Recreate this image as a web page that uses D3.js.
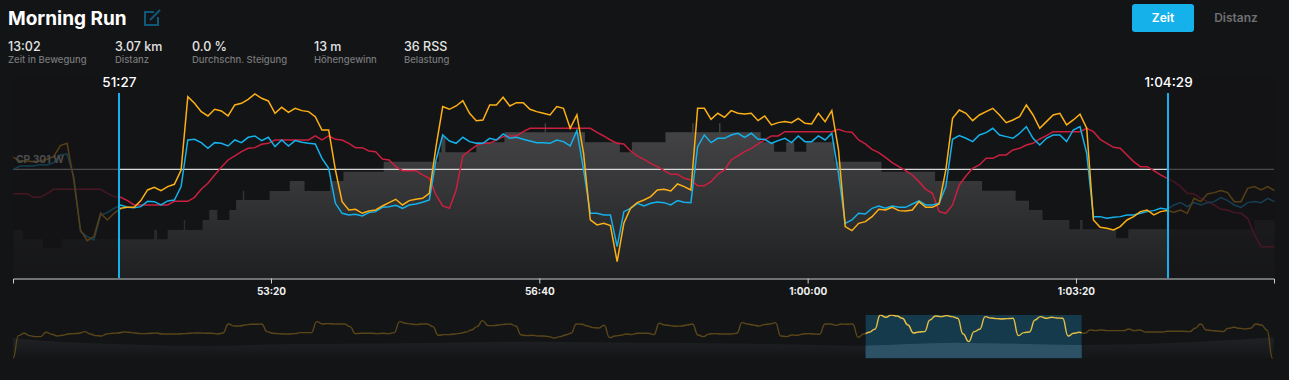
<!DOCTYPE html>
<html>
<head>
<meta charset="utf-8">
<script src="https://cdn.jsdelivr.net/npm/d3@7"></script>
<style>
    html, body { margin: 0; padding: 0; background: #131416; overflow: hidden; }
    text { font-family: Inter, Roboto, sans-serif; }
</style>
</head>
<body>
<svg id="chart"></svg>
<script>
const width = 1289;
const height = 380;

// header
const titleText = "Morning Run";
const statValues = ["13:02", "3.07 km", "0.0 %", "13 m", "36 RSS"];
const statLabels = ["Zeit in Bewegung", "Distanz", "Durchschn. Steigung", "Höhengewinn", "Belastung"];
const buttonLabels = ["Zeit", "Distanz"];

// main chart, one sample every 5 s
const sampleTimes = d3.range(3008, 3949, 5);
const tickTimes = [3200, 3400, 3600, 3800];
const selectionTimes = [3087, 3869];
const cpValue = 327;
const cpLabel = "CP 301 W";

const orangeValues = [363,352,352,350,352,357,365,398,405,295,145,113,125,195,175,195,
    210,213,213,233,265,273,263,275,282,325,545,525,500,487,507,502,487,520,525,537,553,540,532,495,513,498,510,503,500,485,445,445,325,230,205,207,195,202,205,217,227,237,220,233,237,240,255,
    395,515,507,517,533,495,473,475,520,520,543,517,527,527,507,500,495,490,515,510,450,490,375,175,160,165,158,50,165,210,227,235,245,265,267,262,283,275,265,510,510,477,495,483,503,495,493,495,473,487,460,467,470,467,480,465,463,495,470,503,385,155,143,165,
    170,185,207,205,213,203,202,205,230,213,213,223,325,480,505,495,473,490,500,510,490,467,475,485,520,490,450,470,490,495,460,475,492,450,175,153,150,145,155,175,185,200,205,190,200,203,198,205,195,240,230,253,257,263,257,230,230,270,275,265,275,263];

const blueValues = [327,337,337,337,341,340,347,370,373,305,140,125,115,190,197,210,
    220,213,212,215,231,230,220,232,235,275,415,417,407,390,407,405,397,415,407,423,427,413,423,395,415,397,413,408,405,403,360,330,225,195,190,192,187,197,200,213,215,219,210,220,223,228,235,
    355,430,412,405,423,410,405,405,420,415,433,420,423,417,412,407,407,405,415,410,397,443,325,195,195,190,190,95,200,210,225,217,225,229,227,220,233,228,227,395,430,407,420,420,430,435,423,435,417,417,405,413,420,407,427,410,410,427,415,435,315,165,175,195,
    193,210,217,210,217,213,213,223,232,220,220,225,275,417,428,420,410,430,437,450,430,425,420,435,455,420,400,420,430,430,410,445,455,375,185,185,180,183,185,190,190,195,200,203,210,207,220,227,215,227,220,227,230,242,233,220,213,227,230,227,240,230];

const redValues = [254,254,254,243,243,254,267,267,267,267,267,267,267,267,255,245,
    243,233,220,220,220,220,220,220,231,231,231,243,267,285,310,333,355,367,380,390,392,402,405,415,415,415,415,415,415,427,415,427,417,415,405,392,392,382,380,358,355,335,323,323,323,310,300,
    250,217,210,265,367,383,398,405,405,415,425,427,427,440,450,450,450,450,450,450,450,450,450,450,438,427,415,405,403,382,367,357,345,335,323,312,312,300,295,278,278,290,312,325,355,367,380,390,403,415,427,427,440,440,440,440,440,440,440,440,447,440,438,415,
    403,387,377,363,347,335,323,310,290,267,255,200,195,220,280,307,330,340,360,360,370,370,385,390,400,405,418,428,440,440,440,440,440,450,440,417,405,393,390,370,350,335,335,323,310,300,290,275,255,253,240,230,220,207,205,197,195,180,130,95,95,95];

const elevTimes = [3008,3015,3030,3044,3113,3115,3123,3135,3136,3149,3154,3160,3169,3174,3179,3180,3199,3214,3225,3244,3254,3284,3325,3327,3330,3353,3374,3404,3405,3434,3460,3469,3494,3514,3515,3534,3535,3565,3575,3584,3590,3599,3620,3655,3695,3730,3755,3765,3775,3795,3803,3805,3830,3839,3933,3948];
const elevValues = [145,117,90,117,145,117,145,175,145,175,205,175,205,235,262,235,262,292,262,292,320,350,378,425,378,408,438,465,438,408,378,408,438,465,438,465,438,408,380,408,380,408,350,320,292,263,233,205,175,147,175,147,120,147,175,175];

// overview strip, whole activity, one sample every 20 s
const overviewTimes = d3.range(0, 4561, 20);
const overviewValues = [0,68,75,68,65,65,78,72,67,69,73,74,75,80,73,68,67,73,75,76,79,78,76,74,74,75,76,73,73,73,73,74,75,76,76,75,75,73,76,103,97,97,100,102,102,103,80,75,74,73,73,74,77,77,77,110,103,104,103,103,103,95,74,75,75,75,74,75,74,77,110,105,103,101,103,103,95,69,71,71,73,75,79,85,95,113,98,98,100,102,103,97,70,68,69,67,67,65,61,65,70,75,103,102,97,92,91,99,62,67,69,73,71,75,
    75,75,71,105,100,98,96,97,100,103,70,65,73,74,73,73,73,75,107,103,100,97,101,103,107,67,65,70,69,73,74,73,72,103,103,99,103,102,103,
    63,73,78,87,130,123,130,127,120,100,76,79,80,115,127,125,128,125,120,73,50,80,87,125,121,119,118,119,120,68,77,79,115,125,120,123,121,120,67,75,78,75,
    85,83,85,83,83,83,83,88,83,85,79,79,79,79,81,81,81,81,80,90,103,85,83,82,80,90,93,90,88,90,103,100,85,0];
const overviewElevTimes = [0,101,250,696,995,1441,1886,2273,2288,2733,3062,3402,3861,4280,4564];
const overviewElevValues = [60,53,47,37,42,45,50,47,47,43,38,47,40,49,63];

const bg = "#131416";
const sky = "#14b1eb";
const orange = "#fdb016";
const red = "#c9203f";

const svg = d3.select("#chart")
    .attr("width", width)
    .attr("height", height)
    .attr("viewBox", [0, 0, width, height]);

const defs = svg.append("defs");

const elevGrad = defs.append("linearGradient")
    .attr("id", "elevGrad")
    .attr("gradientUnits", "userSpaceOnUse")
    .attr("x1", 0).attr("x2", 0).attr("y1", 125).attr("y2", 278);
elevGrad.append("stop").attr("offset", "0%").attr("stop-color", "#454548");
elevGrad.append("stop").attr("offset", "100%").attr("stop-color", "#1f2022");

const xScale = d3.scaleLinear()
    .domain([3007.7, 3947.6])
    .range([13, 1274]);

const yScale = d3.scaleLinear()
    .domain([0, 600])
    .range([278.3, 78.3]);

const ovX = d3.scaleLinear()
    .domain([0, 4564])
    .range([13, 1273.6]);

const ovY = d3.scaleLinear()
    .domain([0, 150])
    .range([358.3, 308.3]);

//Title and edit icon
svg.append("text")
    .attr("x", 8).attr("y", 25)
    .attr("font-size", "19px").attr("font-weight", 700)
    .attr("fill", "#fff")
    .text(titleText);

const icon = svg.append("g")
    .attr("fill", "none")
    .attr("stroke", "#10587a")
    .attr("stroke-width", 2);
icon.append("path").attr("d", "M158 17v8h-13v-13h9");
icon.append("path").attr("d", "M150 20l10-10");

//Stats row
const statX = [8, 115, 192, 314, 404];
const stats = svg.append("g").selectAll("g")
    .data(statValues)
    .join("g")
    .attr("transform", (d, i) => `translate(${statX[i]},0)`);
stats.append("text")
    .attr("y", 51)
    .attr("font-size", "12.5px").attr("font-weight", 500)
    .attr("fill", "#e4e4e4")
    .text(d => d);
stats.append("text")
    .attr("y", 63)
    .attr("font-size", "9.5px").attr("font-weight", 500)
    .attr("fill", "#77787a")
    .text((d, i) => statLabels[i]);

//Toggle buttons
svg.append("rect")
    .attr("x", 1132).attr("y", 4)
    .attr("width", 62).attr("height", 28).attr("rx", 3)
    .attr("fill", sky);
svg.append("g").selectAll("text")
    .data(buttonLabels)
    .join("text")
    .attr("x", (d, i) => i === 0 ? 1163 : 1236)
    .attr("y", 22)
    .attr("text-anchor", "middle")
    .attr("font-size", "12px").attr("font-weight", 600)
    .attr("fill", (d, i) => i === 0 ? "#fff" : "#6f7072")
    .text(d => d);

//Elevation
const elevArea = d3.area()
    .x((d, i) => xScale(elevTimes[i]))
    .y0(yScale(0))
    .y1(d => yScale(d))
    .curve(d3.curveStepAfter);
svg.append("path")
    .datum(elevValues)
    .attr("d", elevArea)
    .attr("fill", "url(#elevGrad)");

//CP line
svg.append("line")
    .attr("x1", xScale.range()[0]).attr("x2", xScale.range()[1])
    .attr("y1", yScale(cpValue)).attr("y2", yScale(cpValue))
    .attr("stroke", "#d8d8d8").attr("stroke-width", 1.2);

//Series
const sampleLine = d3.line().x((d, i) => xScale(sampleTimes[i])).y(d => yScale(d));

svg.append("path").datum(redValues)
    .attr("d", sampleLine)
    .attr("fill", "none").attr("stroke", red).attr("stroke-width", 1.5);
svg.append("path").datum(blueValues)
    .attr("d", sampleLine)
    .attr("fill", "none").attr("stroke", sky).attr("stroke-width", 1.5);
svg.append("path").datum(orangeValues)
    .attr("d", sampleLine)
    .attr("fill", "none").attr("stroke", orange).attr("stroke-width", 1.5);

//Dim what is outside the selection
const selX = selectionTimes.map(d => Math.floor(xScale(d)));
svg.append("rect")
    .attr("x", 13).attr("y", 78)
    .attr("width", selX[0] - 13).attr("height", 200)
    .attr("fill", bg).attr("opacity", 0.72);
svg.append("rect")
    .attr("x", selX[1]).attr("y", 78)
    .attr("width", 1275 - selX[1]).attr("height", 200)
    .attr("fill", bg).attr("opacity", 0.72);

svg.append("text")
    .attr("x", 16).attr("y", 162.5)
    .attr("font-size", "10.3px").attr("font-weight", 700)
    .attr("fill", "#4c4c4d")
    .text(cpLabel);

//Selection handles
svg.append("g").selectAll("line")
    .data(selX)
    .join("line")
    .attr("x1", d => d).attr("x2", d => d)
    .attr("y1", 93).attr("y2", 278)
    .attr("stroke", sky).attr("stroke-width", 2);
svg.append("g").selectAll("text")
    .data(selectionTimes)
    .join("text")
    .attr("x", d => xScale(d))
    .attr("y", 87)
    .attr("text-anchor", "middle")
    .attr("font-size", "13.5px").attr("font-weight", 500)
    .attr("fill", "#fff")
    .text(formatTime);

//X-axis
const xAxis = svg.append("g")
    .attr("transform", "translate(0,278.5)")
    .call(d3.axisBottom(xScale)
        .tickValues(tickTimes)
        .tickSize(5)
        .tickFormat(formatTime));
xAxis.select(".domain").attr("stroke", "#cfcfcf");
xAxis.selectAll("line").attr("stroke", "#cfcfcf");
xAxis.selectAll("text")
    .attr("fill", "#f0f0f0")
    .attr("font-size", "10px").attr("font-weight", 700)
    .attr("font-family", "Inter, Roboto, sans-serif")
    .attr("dy", "8");

//Overview strip
const ovElevArea = d3.area()
    .x((d, i) => ovX(overviewElevTimes[i]))
    .y0(ovY(0))
    .y1(d => ovY(d))
    .curve(d3.curveMonotoneX);
const ovLine = d3.line()
    .x((d, i) => ovX(overviewTimes[i]))
    .y(d => ovY(d))
    .curve(d3.curveBumpX);

const ovGrad = defs.append("linearGradient")
    .attr("id", "ovGrad")
    .attr("gradientUnits", "userSpaceOnUse")
    .attr("x1", 0).attr("x2", 0).attr("y1", 340).attr("y2", 359);
ovGrad.append("stop").attr("offset", "0%").attr("stop-color", "#1e2023");
ovGrad.append("stop").attr("offset", "100%").attr("stop-color", "#141517");

svg.append("path").datum(overviewElevValues)
    .attr("d", ovElevArea)
    .attr("fill", "url(#ovGrad)");
svg.append("path").datum(overviewValues)
    .attr("d", ovLine)
    .attr("fill", "none").attr("stroke", "#5a4619").attr("stroke-width", 1.4);

const ovSel = selectionTimes.map(ovX);
defs.append("clipPath").attr("id", "ovClip")
    .append("rect")
    .attr("x", ovSel[0]).attr("y", 315)
    .attr("width", ovSel[1] - ovSel[0]).attr("height", 43.3);

svg.append("rect")
    .attr("x", ovSel[0]).attr("y", 315)
    .attr("width", ovSel[1] - ovSel[0]).attr("height", 43.3)
    .attr("fill", "#153a4c");
svg.append("path").datum(overviewElevValues)
    .attr("d", ovElevArea)
    .attr("clip-path", "url(#ovClip)")
    .attr("fill", "#2d5266");
svg.append("path").datum(overviewValues)
    .attr("d", ovLine)
    .attr("clip-path", "url(#ovClip)")
    .attr("fill", "none").attr("stroke", "#e5bf45").attr("stroke-width", 1.4);

function formatTime(t) {
    const h = Math.floor(t / 3600);
    const m = Math.floor(t % 3600 / 60);
    const s = t % 60;
    const ss = String(s).padStart(2, "0");
    if (h > 0) return `${h}:${String(m).padStart(2, "0")}:${ss}`;
    return `${m}:${ss}`;
}
</script>
</body>
</html>
